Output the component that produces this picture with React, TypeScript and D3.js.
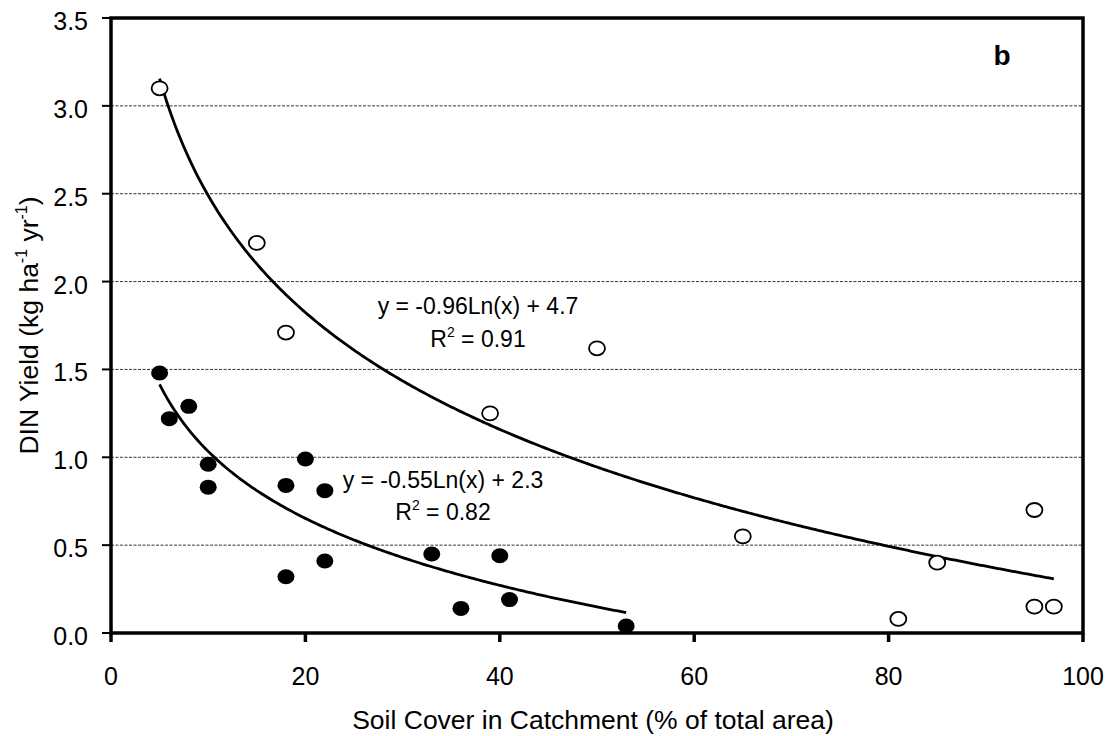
import React from "react";
import * as d3 from "d3";

// Open circles: catchments with the upper fit
const openX = [5, 15, 18, 50, 39, 65, 85, 95, 81, 95, 97];
const openY = [3.1, 2.22, 1.71, 1.62, 1.25, 0.55, 0.4, 0.7, 0.08, 0.15, 0.15];

// Filled circles: catchments with the lower fit
const filledX = [5, 6, 8, 10, 10, 18, 20, 22, 18, 22, 33, 40, 36, 41, 53];
const filledY = [1.48, 1.22, 1.29, 0.96, 0.83, 0.84, 0.99, 0.81, 0.32, 0.41, 0.45, 0.44, 0.14, 0.19, 0.04];

// Logarithmic fits y = a*ln(x) + b over their x ranges
const upperFit = { a: -0.96, b: 4.7, from: 5, to: 97 };
const lowerFit = { a: -0.55, b: 2.3, from: 5, to: 53 };

const xTicks = [0, 20, 40, 60, 80, 100];
const yTicks = [0, 0.5, 1.0, 1.5, 2.0, 2.5, 3.0, 3.5];

const W = 1115;
const H = 736;
const left = 111;
const right = 1083;
const top = 18;
const bottom = 633;

const FONT = "Arial, 'Liberation Sans', sans-serif";

export default function App() {
  const x = d3.scaleLinear().domain([0, 100]).range([left, right]);
  const y = d3.scaleLinear().domain([0, 3.5]).range([bottom, top]);

  const fitPath = (f: { a: number; b: number; from: number; to: number }) => {
    const xs = d3.range(f.from, f.to + 0.0001, 0.25);
    return d3
      .line<number>()
      .x((v) => x(v))
      .y((v) => y(f.a * Math.log(v) + f.b))(xs) as string;
  };

  return (
    <svg width={W} height={H} style={{ display: "block", position: "absolute", left: 0, top: 0 }}>
      <rect width={W} height={H} fill="#fff" />
      {/* horizontal dashed gridlines */}
      {yTicks
        .filter((t) => t > 0 && t < 3.5)
        .map((t) => (
          <line
            key={"g" + t}
            x1={left}
            x2={right}
            y1={y(t)}
            y2={y(t)}
            stroke="#000"
            strokeWidth={0.8}
            strokeDasharray="3,1.5"
          />
        ))}

      {/* trend curves */}
      <path d={fitPath(upperFit)} fill="none" stroke="#000" strokeWidth={2.8} />
      <path d={fitPath(lowerFit)} fill="none" stroke="#000" strokeWidth={2.8} />

      {/* points */}
      {openX.map((v, i) => (
        <ellipse key={"o" + i} cx={x(v)} cy={y(openY[i])} rx={8} ry={7} fill="#fff" stroke="#000" strokeWidth={1.8} />
      ))}
      {filledX.map((v, i) => (
        <ellipse key={"f" + i} cx={x(v)} cy={y(filledY[i])} rx={8.5} ry={7.5} fill="#000" />
      ))}

      {/* frame */}
      <rect x={left} y={top} width={right - left} height={bottom - top} fill="none" stroke="#000" strokeWidth={3.5} />

      {/* y ticks */}
      {yTicks.map((t) => (
        <g key={"y" + t}>
          <line x1={left - 9} x2={left} y1={y(t)} y2={y(t)} stroke="#000" strokeWidth={2} />
          <text x={88} y={y(t) + 12} textAnchor="end" fontFamily={FONT} fontSize={25}>
            {t.toFixed(1)}
          </text>
        </g>
      ))}
      {/* x ticks */}
      {xTicks.map((t) => (
        <g key={"x" + t}>
          <line x1={x(t)} x2={x(t)} y1={bottom} y2={bottom + 9} stroke="#000" strokeWidth={3.5} />
          <text x={x(t)} y={685} textAnchor="middle" fontFamily={FONT} fontSize={25}>
            {t}
          </text>
        </g>
      ))}

      {/* axis titles */}
      <text x={593} y={729} textAnchor="middle" fontFamily={FONT} fontSize={26.5}>
        Soil Cover in Catchment (% of total area)
      </text>
      <text
        transform={`translate(38, ${(top + bottom) / 2}) rotate(-90)`}
        textAnchor="middle"
        fontFamily={FONT}
        fontSize={26.5}
      >
        DIN Yield (kg ha
        <tspan dy={-11} fontSize={16}>-1</tspan>
        <tspan dy={11}> yr</tspan>
        <tspan dy={-11} fontSize={16}>-1</tspan>
        <tspan dy={11}>)</tspan>
      </text>

      {/* fit equations */}
      <text x={478} y={314} textAnchor="middle" fontFamily={FONT} fontSize={23}>
        y = -0.96Ln(x) + 4.7
      </text>
      <text x={478} y={347} textAnchor="middle" fontFamily={FONT} fontSize={23}>
        R<tspan dy={-10} fontSize={14}>2</tspan>
        <tspan dy={10}> = 0.91</tspan>
      </text>
      <text x={443} y={488} textAnchor="middle" fontFamily={FONT} fontSize={23}>
        y = -0.55Ln(x) + 2.3
      </text>
      <text x={443} y={520} textAnchor="middle" fontFamily={FONT} fontSize={23}>
        R<tspan dy={-10} fontSize={14}>2</tspan>
        <tspan dy={10}> = 0.82</tspan>
      </text>

      {/* panel label */}
      <text x={1002} y={65} textAnchor="middle" fontFamily={FONT} fontSize={28} fontWeight="bold">
        b
      </text>
    </svg>
  );
}
